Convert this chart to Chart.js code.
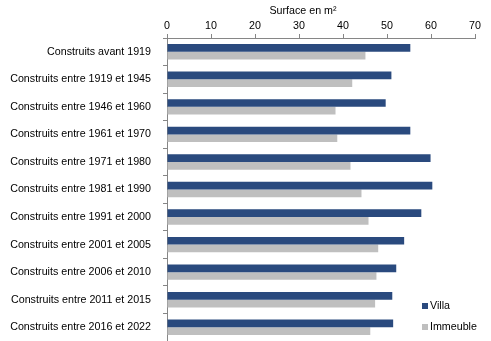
<!DOCTYPE html>
<html><head><meta charset="utf-8">
<script src="https://cdn.jsdelivr.net/npm/chart.js@4/dist/chart.umd.min.js"></script>
<style>html,body{margin:0;padding:0;background:#fff;overflow:hidden}#w{width:491px;height:341px;position:relative}</style>
</head><body><div id="w"><canvas id="c"></canvas></div>
<script>
const categories = ["Construits avant 1919","Construits entre 1919 et 1945","Construits entre 1946 et 1960","Construits entre 1961 et 1970","Construits entre 1971 et 1980","Construits entre 1981 et 1990","Construits entre 1991 et 2000","Construits entre 2001 et 2005","Construits entre 2006 et 2010","Construits entre 2011 et 2015","Construits entre 2016 et 2022"];
const villa = [55.3, 51.0, 49.7, 55.3, 59.9, 60.3, 57.8, 53.9, 52.1, 51.2, 51.4];
const immeuble = [45.1, 42.1, 38.3, 38.7, 41.7, 44.2, 45.8, 48.0, 47.6, 47.3, 46.2];
const seriesNames = ["Villa", "Immeuble"];
const axisTitle = "Surface en m²";
const FONT = "Liberation Sans";
const colors = ["#2A4A7E", "#BFBFBF"];

const overlay = {
  id: 'overlay',
  afterDraw(chart) {
    const ctx = chart.ctx;
    ctx.save();
    ctx.font = "10.7px '" + FONT + "'";
    ctx.fillStyle = "#000";
    ctx.textBaseline = "middle";
    ctx.textAlign = "center";
    ctx.fillText(axisTitle, 303, 11);
    ctx.textAlign = "left";
    const ys = [306, 327];
    seriesNames.forEach((n, i) => {
      ctx.fillStyle = colors[i];
      ctx.fillRect(422, ys[i] - 3, 6, 6);
      ctx.fillStyle = "#000";
      ctx.fillText(n, 430, ys[i]);
    });
    ctx.restore();
  }
};

new Chart(document.getElementById('c'), {
  type: 'bar',
  data: {
    labels: categories,
    datasets: [
      { label: seriesNames[0], data: villa, backgroundColor: colors[0], categoryPercentage: 0.56, barPercentage: 1.0 },
      { label: seriesNames[1], data: immeuble, backgroundColor: colors[1], categoryPercentage: 0.56, barPercentage: 1.0 }
    ]
  },
  options: {
    indexAxis: 'y',
    responsive: true,
    maintainAspectRatio: false,
    animation: false,
    layout: { padding: { left: 0, right: 16, top: 0, bottom: 0 } },
    plugins: { legend: { display: false }, tooltip: { enabled: false } },
    scales: {
      x: {
        position: 'top',
        min: 0, max: 70,
        ticks: { stepSize: 10, color: '#000', font: { family: FONT, size: 10.7 }, padding: 2 },
        grid: { drawOnChartArea: false, tickLength: 4, color: '#868686' },
        border: { color: '#868686' },
        afterFit(s) { s.height = 38; s.paddingLeft = 0; }
      },
      y: {
        ticks: { color: '#000', font: { family: FONT, size: 10.7 }, padding: 12 },
        grid: { drawOnChartArea: false, offset: true, tickLength: 4, color: '#868686' },
        border: { color: '#868686' },
        afterFit(s) { s.width = 167; s.paddingTop = 0; s.paddingBottom = 0; }
      }
    }
  },
  plugins: [overlay]
});
</script></body></html>
